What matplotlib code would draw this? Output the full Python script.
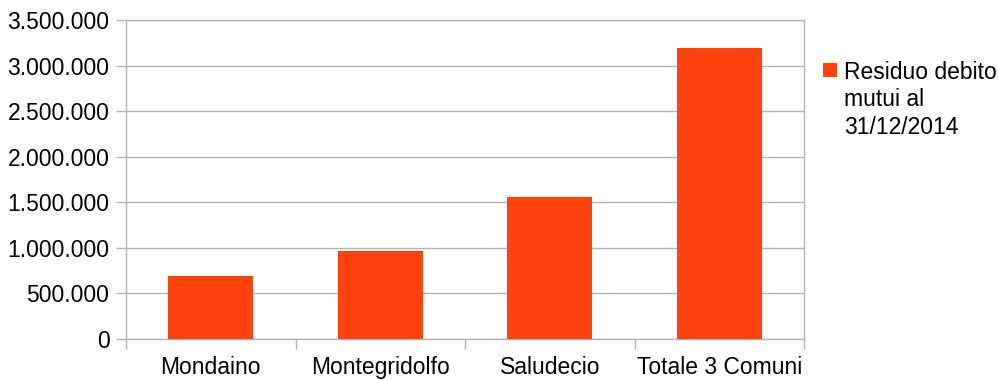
import matplotlib
matplotlib.use("Agg")
import matplotlib.pyplot as plt
from matplotlib.patches import Rectangle
from matplotlib.ticker import FuncFormatter, FixedLocator, NullFormatter

plt.rcParams['font.family'] = ['Liberation Sans', 'DejaVu Sans']

comuni = ['Mondaino', 'Montegridolfo', 'Saludecio', 'Totale 3 Comuni']
residuo = [690000, 965000, 1558000, 3198000]
serie_label = 'Residuo debito\nmutui al\n31/12/2014'

bar_color = '#ff420e'
grid_color = '#b3b3b3'
fs = 16.5

fig = plt.figure(figsize=(9.98, 3.8), dpi=100)
ax = fig.add_axes([0.1263, 0.1079, 0.6793, 0.8395])

x = list(range(len(comuni)))
ax.bar(x, residuo, width=0.5, color=bar_color, zorder=3)

ax.set_xlim(-0.5, len(comuni) - 0.5)
ax.set_ylim(0, 3500000)
ax.set_yticks(range(0, 3500001, 500000))

def fmt(v, pos):
    return f'{int(v):,}'.replace(',', '.')

ax.yaxis.set_major_formatter(FuncFormatter(fmt))
ax.grid(axis='y', color=grid_color, linewidth=1, zorder=0)

# category labels centred, tick marks at boundaries
ax.set_xticks(x)
ax.set_xticklabels(comuni)
ax.tick_params(axis='x', which='major', length=0, pad=12.5, labelsize=fs)
ax.xaxis.set_minor_locator(FixedLocator([i - 0.5 for i in range(len(comuni) + 1)]))
ax.xaxis.set_minor_formatter(NullFormatter())
ax.tick_params(axis='x', which='minor', length=7, color=grid_color, width=1)
ax.tick_params(axis='y', length=7, color=grid_color, width=1, labelsize=fs, pad=5)

for s in ax.spines.values():
    s.set_color(grid_color)
    s.set_linewidth(1)

# legend: key square aligned with the first line of the label
fig.patches.append(Rectangle((823 / 998, 1 - 77 / 380), 14 / 998, 14 / 380,
                             transform=fig.transFigure, facecolor=bar_color,
                             edgecolor='none', figure=fig))
fig.text(844 / 998, 1 - 61 / 380, serie_label, fontsize=fs, va='top', ha='left',
         linespacing=1.25)

fig.savefig('out.png', dpi=100)
